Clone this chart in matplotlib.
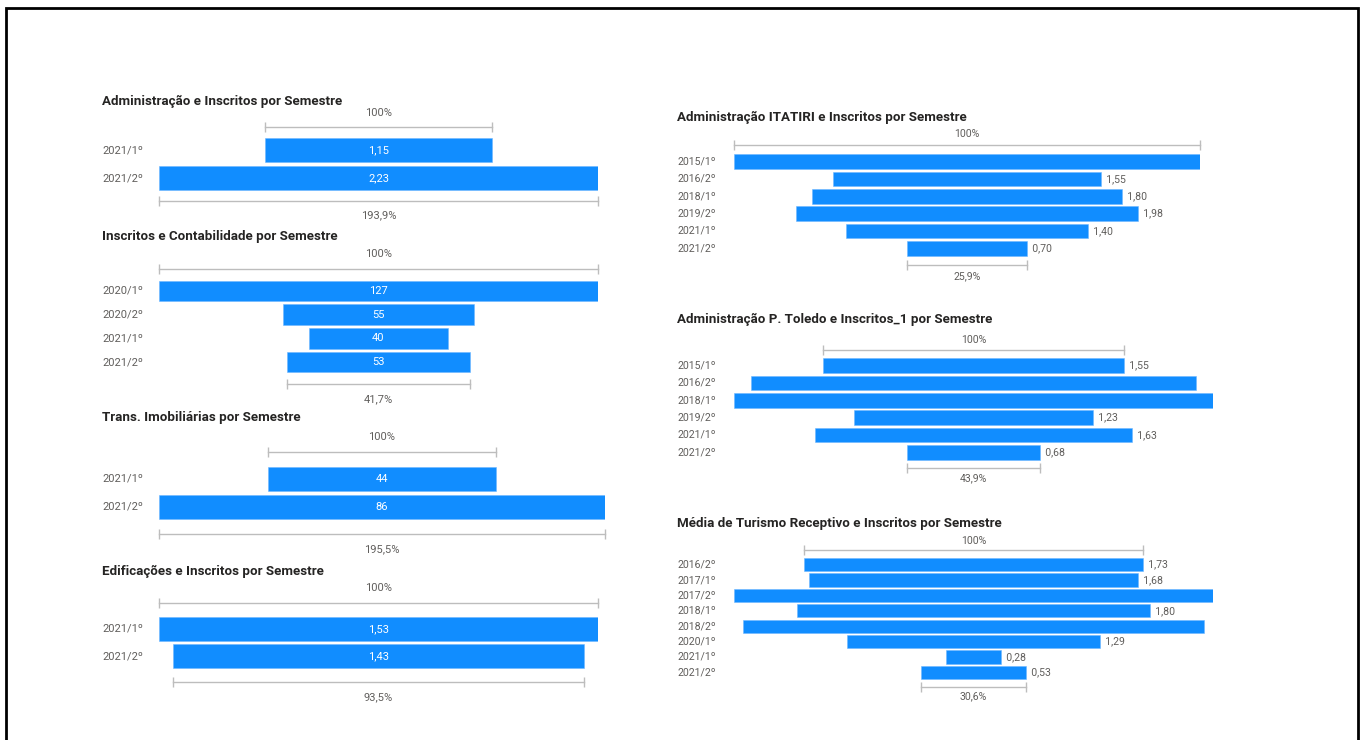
import matplotlib.pyplot as plt
from matplotlib.patches import Rectangle
from matplotlib.transforms import offset_copy, blended_transform_factory

plt.rcParams['font.family'] = ['Roboto', 'DejaVu Sans']

W, H = 1361, 740

# data: one funnel per chart
adm_cats = ['2021/1º', '2021/2º']
adm_vals = [1.15, 2.23]

cont_cats = ['2020/1º', '2020/2º', '2021/1º', '2021/2º']
cont_vals = [127, 55, 40, 53]

trans_cats = ['2021/1º', '2021/2º']
trans_vals = [44, 86]

edif_cats = ['2021/1º', '2021/2º']
edif_vals = [1.53, 1.43]

itatiri_cats = ['2015/1º', '2016/2º', '2018/1º', '2019/2º', '2021/1º', '2021/2º']
itatiri_vals = [2.70, 1.55, 1.80, 1.98, 1.40, 0.70]

toledo_cats = ['2015/1º', '2016/2º', '2018/1º', '2019/2º', '2021/1º', '2021/2º']
toledo_vals = [1.55, 2.29, 2.46, 1.23, 1.63, 0.68]

tur_cats = ['2016/2º', '2017/1º', '2017/2º', '2018/1º', '2018/2º', '2020/1º', '2021/1º', '2021/2º']
tur_vals = [1.73, 1.68, 2.44, 1.80, 2.35, 1.29, 0.28, 0.53]

BLUE = '#118DFF'
GREY = '#605E5C'
LINE = '#BDBDBD'


def fmt(v):
    if float(v).is_integer():
        return f'{int(v)}'
    return f'{v:.2f}'.replace('.', ',')


def funnel(title, cats, vals, box, inside, title_y, cat_x, gap, txt_gap, fs):
    x0, x1, ytop, ybot = box
    ax = fig.add_axes([x0 / W, 1 - ybot / H, (x1 - x0) / W, (ybot - ytop) / H])
    n = len(vals)
    vmax = max(vals)
    lefts = [-v / 2 for v in vals]
    ax.barh(range(n), vals, left=lefts, height=0.86, color=BLUE,
            edgecolor='#6FB8FF', linewidth=0.4)
    ax.set_xlim(-vmax / 2, vmax / 2)
    ax.set_ylim(n - 0.5, -0.5)
    ax.axis('off')

    cat_tr = blended_transform_factory(fig.transFigure, ax.transData)
    for i, (c, v) in enumerate(zip(cats, vals)):
        ax.text(cat_x / W, i, c, transform=cat_tr, fontsize=fs, color=GREY,
                va='center', ha='left')
        if inside:
            ax.text(0, i, fmt(v), color='white', fontsize=fs, ha='center', va='center')
        elif v / vmax < 0.9:
            ax.text(v / 2, i, '  ' + fmt(v), color=GREY, fontsize=fs, ha='left', va='center')

    # brackets: first bar (100%) on top, last bar below
    top = offset_copy(ax.transData, fig=fig, y=gap, units='dots')
    bot = offset_copy(ax.transData, fig=fig, y=-gap, units='dots')
    pct_last = f'{vals[-1] / vals[0] * 100:.1f}%'.replace('.', ',')
    for v, y, tr, sign, pct in [(vals[0], -0.5, top, 1, '100%'),
                                (vals[-1], n - 0.5, bot, -1, pct_last)]:
        ax.plot([-v / 2, v / 2], [y, y], color=LINE, lw=1, marker='|',
                markersize=7, markeredgewidth=1, transform=tr, clip_on=False)
        tt = offset_copy(tr, fig=fig, y=sign * txt_gap, units='dots')
        ax.text(0, y, pct, transform=tt, fontsize=fs, color=GREY, ha='center', va='center')

    fig.text(cat_x / W, 1 - title_y / H, title, fontsize=9.6, fontweight='bold',
             color='#252423', ha='left', va='center')
    return ax


fig = plt.figure(figsize=(W / 100, H / 100), dpi=100)
fig.patches.append(Rectangle((6 / W, -0.05), (1358 - 6) / W, 1.05 - 8 / H,
                             transform=fig.transFigure, fill=False,
                             edgecolor='black', lw=2))

funnel('Administração e Inscritos por Semestre', adm_cats, adm_vals,
       (159, 598, 136, 192), True, 101, 102, 9, 14, 8)
funnel('Inscritos e Contabilidade por Semestre', cont_cats, cont_vals,
       (159, 598, 279, 374), True, 236, 102, 10, 15, 8)
funnel('Trans. Imobiliárias por Semestre', trans_cats, trans_vals,
       (159, 605, 465, 521), True, 417, 102, 13, 15, 8)
funnel('Edificações e Inscritos por Semestre', edif_cats, edif_vals,
       (159, 598, 615, 670), True, 571, 102, 12, 15, 8)

funnel('Administração ITATIRI e Inscritos por Semestre', itatiri_cats, itatiri_vals,
       (734, 1200, 153, 257), False, 117, 677, 8, 11, 7.6)
funnel('Administração P. Toledo e Inscritos_1 por Semestre', toledo_cats, toledo_vals,
       (734, 1213, 357, 461), False, 319, 677, 7, 10, 7.6)
funnel('Média de Turismo Receptivo e Inscritos por Semestre', tur_cats, tur_vals,
       (734, 1213, 557, 680), False, 523, 677, 7, 9, 7.6)

fig.savefig('out.png', dpi=100)
